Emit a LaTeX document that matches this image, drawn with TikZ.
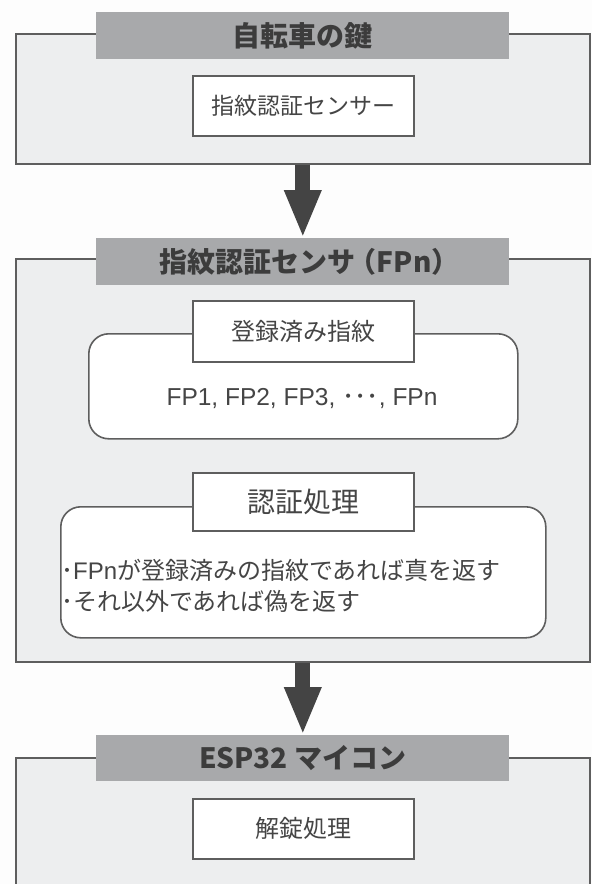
\documentclass[tikz,border=0pt]{standalone}
\usepackage{fontspec}
\setmainfont{Noto Sans CJK JP}
\newfontfamily\latinfont{Liberation Sans}
\usetikzlibrary{arrows.meta}
\definecolor{boxfill}{HTML}{EDEEEF}
\definecolor{edge}{HTML}{5E5E5E}
\definecolor{bannerfill}{HTML}{A8A9AB}
\definecolor{bantext}{HTML}{3C3C3C}
\definecolor{txt}{HTML}{454545}
\definecolor{arrowc}{HTML}{444444}
\definecolor{bg}{HTML}{FDFDFD}
\tikzset{
  outerbox/.style={draw=edge, fill=boxfill, line width=1.6pt, anchor=north west, inner sep=0pt, minimum width=574pt},
  banner/.style={fill=bannerfill, anchor=north west, inner sep=0pt, minimum width=413pt, minimum height=47pt, text=bantext, font=\fontsize{28}{30}\selectfont\bfseries},
  subbox/.style={draw=edge, fill=white, line width=1.6pt, anchor=north west, inner sep=0pt, minimum width=221pt, minimum height=60pt, text=txt},
  roundbox/.style={draw=edge, fill=white, line width=1.6pt, rounded corners=20pt, anchor=north west, inner sep=0pt},
  plain/.style={inner sep=0pt, text=txt},
  bigarrow/.style={draw=arrowc, line width=15pt, -{Triangle[width=34pt,length=48pt]}}
}
\begin{document}
\begin{tikzpicture}[x=1pt,y=-1pt]
\clip (0,0) rectangle (592,884);
\fill[bg] (0,0) rectangle (592,884);
% block 1
\node[outerbox, minimum height=130pt] (k1) at (15,33) {};
\node[banner] (b1) at (96,12) {自転車の鍵};
\node[subbox, font=\fontsize{23}{25}\selectfont] (s1) at (192,75) {指紋認証センサー};
% block 2
\node[outerbox, minimum height=403pt] (k2) at (15,258) {};
\node[banner] (b2) at (96,238) {指紋認証センサ\kern-0.25em（FPn）\kern-0.5em};
\node[roundbox, minimum width=429pt, minimum height=105pt] (r1) at (88,333) {};
\node[subbox, minimum height=61pt, font=\fontsize{24}{26}\selectfont] (s2) at (192,300) {登録済み指紋};
\node[plain, font=\fontsize{24.5}{26}\selectfont\latinfont] (fp) at (302,399) {FP1, FP2, FP3, {\rmfamily ･･･}, FPn};
\node[roundbox, minimum width=485pt, minimum height=131pt] (r2) at (60,506) {};
\node[subbox, minimum height=58pt, font=\fontsize{28}{30}\selectfont] (s3) at (192,472) {認証処理};
\node[plain, anchor=west, font=\fontsize{24}{26}\selectfont] (l1) at (61,570) {･{\latinfont FPn}が登録済みの指紋であれば真を返す};
\node[plain, anchor=west, font=\fontsize{24}{26}\selectfont] (l2) at (61,601) {･それ以外であれば偽を返す};
% block 3
\node[outerbox, minimum height=200pt] (k3) at (15,757) {};
\node[banner, minimum height=46pt] (b3) at (96,735) {ESP32 マイコン};
\node[subbox, font=\fontsize{24}{26}\selectfont] (s4) at (192,798) {解錠処理};
% arrows
\draw[bigarrow] (k1.south) -- (k1.south |- b2.north);
\draw[bigarrow] (k2.south) -- (k2.south |- b3.north);
\end{tikzpicture}
\end{document}
